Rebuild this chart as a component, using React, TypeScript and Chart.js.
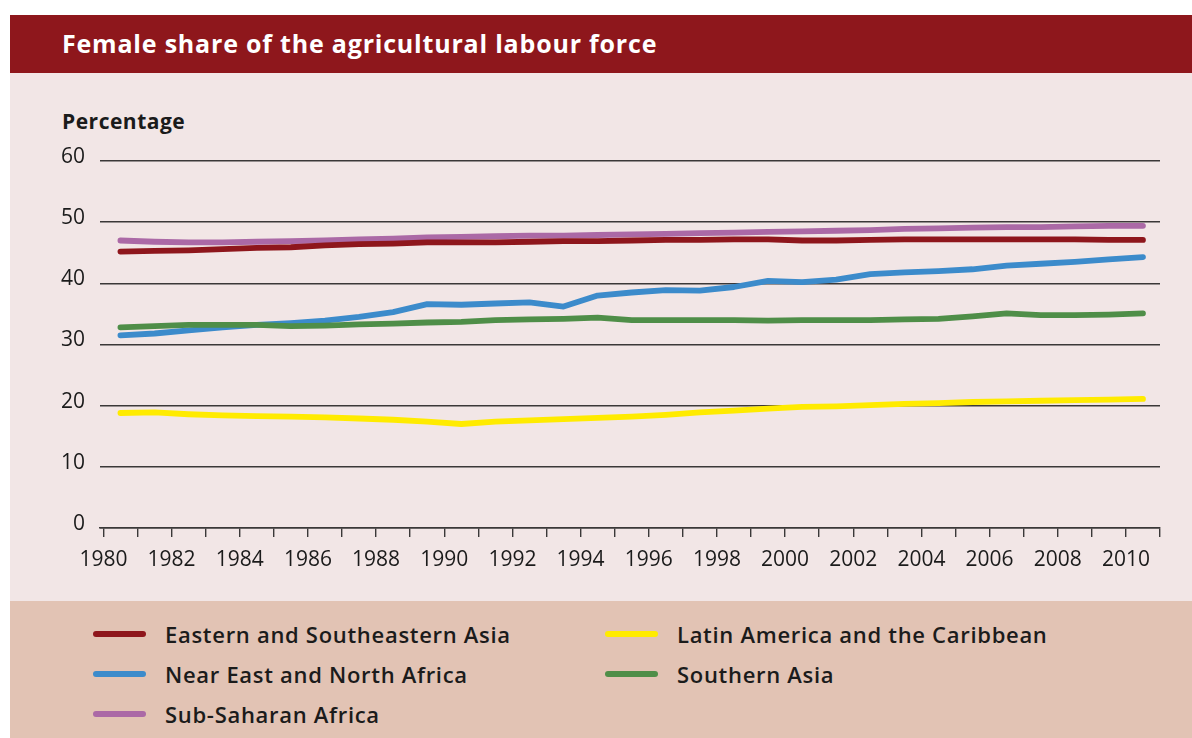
import React, { useEffect, useRef } from "react";
import { Chart, registerables } from "chart.js";

Chart.register(...registerables);

const years: number[] = [
  1980, 1981, 1982, 1983, 1984, 1985, 1986, 1987, 1988, 1989, 1990,
  1991, 1992, 1993, 1994, 1995, 1996, 1997, 1998, 1999, 2000,
  2001, 2002, 2003, 2004, 2005, 2006, 2007, 2008, 2009, 2010,
];

const axisTicks: number[] = [
  1980, 1981, 1982, 1983, 1984, 1985, 1986, 1987, 1988, 1989, 1990,
  1991, 1992, 1993, 1994, 1995, 1996, 1997, 1998, 1999, 2000,
  2001, 2002, 2003, 2004, 2005, 2006, 2007, 2008, 2009, 2010, 2011,
];

const yTicks: number[] = [0, 10, 20, 30, 40, 50, 60];

const easternAsia: number[] = [
  45.2, 45.3, 45.4, 45.6, 45.8, 45.9, 46.2, 46.4, 46.5, 46.7, 46.7,
  46.7, 46.8, 46.9, 46.9, 47.0, 47.1, 47.1, 47.2, 47.2, 47.0,
  47.0, 47.1, 47.2, 47.2, 47.2, 47.2, 47.2, 47.2, 47.1, 47.1,
];

const latinAmerica: number[] = [
  18.8, 18.9, 18.6, 18.4, 18.3, 18.2, 18.1, 17.9, 17.7, 17.4, 17.0,
  17.4, 17.6, 17.8, 18.0, 18.2, 18.5, 18.9, 19.2, 19.5, 19.8,
  19.9, 20.1, 20.3, 20.4, 20.6, 20.7, 20.8, 20.9, 21.0, 21.1,
];

const nearEast: number[] = [
  31.5, 31.8, 32.3, 32.8, 33.2, 33.5, 33.9, 34.5, 35.3, 36.6, 36.5,
  36.7, 36.9, 36.2, 38.0, 38.5, 38.9, 38.8, 39.4, 40.4, 40.2,
  40.6, 41.5, 41.8, 42.0, 42.3, 42.9, 43.2, 43.5, 43.9, 44.3,
];

const southernAsia: number[] = [
  32.8, 33.0, 33.2, 33.2, 33.2, 33.0, 33.1, 33.3, 33.4, 33.6, 33.7,
  34.0, 34.1, 34.2, 34.4, 34.0, 34.0, 34.0, 34.0, 33.9, 34.0,
  34.0, 34.0, 34.1, 34.2, 34.6, 35.1, 34.8, 34.8, 34.9, 35.1,
];

const subSaharan: number[] = [
  47.0, 46.8, 46.7, 46.7, 46.8, 46.9, 47.0, 47.2, 47.3, 47.5, 47.6,
  47.7, 47.8, 47.8, 47.9, 48.0, 48.1, 48.2, 48.3, 48.4, 48.5,
  48.6, 48.7, 48.9, 49.0, 49.1, 49.2, 49.2, 49.3, 49.4, 49.4,
];

const seriesNames: string[] = [
  "Eastern and Southeastern Asia",
  "Latin America and the Caribbean",
  "Near East and North Africa",
  "Southern Asia",
  "Sub-Saharan Africa",
];

const seriesColors: string[] = ["#8E161C", "#FFEB00", "#3C8BCB", "#4F8E48", "#AB69A6"];

const seriesValues: number[][] = [easternAsia, latinAmerica, nearEast, southernAsia, subSaharan];

const FONT = "'Open Sans', 'Noto Sans', sans-serif";
const TEXT = "#1b1b1b";
const GRID = "#3b3838";

export default function App() {
  const canvasRef = useRef<HTMLCanvasElement | null>(null);

  useEffect(() => {
    const canvas = canvasRef.current;
    if (!canvas) return;
    const drawOrder = [3, 2, 1, 0, 4];
    const datasets = drawOrder.map((i) => ({
      label: seriesNames[i],
      data: years.map((yr, k) => ({ x: yr + 0.5, y: seriesValues[i][k] })),
      borderColor: seriesColors[i],
      backgroundColor: seriesColors[i],
      borderWidth: 5.8,
      borderCapStyle: "round" as const,
      borderJoinStyle: "round" as const,
      pointRadius: 0,
      tension: 0,
      fill: false,
    }));

    const chart = new Chart(canvas, {
      type: "line",
      data: { datasets },
      options: {
        animation: false,
        responsive: false,
        maintainAspectRatio: false,
        layout: { padding: { top: 31, right: 32, left: 0, bottom: 0 } },
        plugins: { legend: { display: false }, tooltip: { enabled: false }, title: { display: false } },
        scales: {
          x: {
            type: "linear",
            min: 1979.9,
            max: 2011,
            afterBuildTicks: (scale: any) => {
              scale.ticks = axisTicks.map((v) => ({ value: v }));
            },
            afterFit: (scale: any) => {
              scale.height = 72;
            },
            grid: {
              drawOnChartArea: false,
              drawTicks: true,
              tickLength: 9,
              color: GRID,
              lineWidth: 1.4,
            },
            border: { display: true, color: GRID, width: 1.5 },
            ticks: {
              autoSkip: false,
              maxRotation: 0,
              minRotation: 0,
              padding: 10,
              color: TEXT,
              font: { family: FONT, size: 21, weight: "500" },
              callback: (v: any) => (Number(v) % 2 === 0 && Number(v) <= 2010 ? String(v) : ""),
            },
          },
          y: {
            min: 0,
            max: 60,
            afterBuildTicks: (scale: any) => {
              scale.ticks = yTicks.map((v) => ({ value: v }));
            },
            afterFit: (scale: any) => {
              scale.width = 100;
            },
            grid: { drawTicks: false, color: GRID, lineWidth: 1.4 },
            border: { display: false },
            ticks: {
              padding: 15,
              labelOffset: -4,
              color: TEXT,
              font: { family: FONT, size: 21, weight: "500" },
              callback: (v: any) => String(v),
            },
          },
        },
      },
    });
    return () => chart.destroy();
  }, []);

  const legendItem = (i: number, left: number, top: number) => (
    <div key={i} style={{ position: "absolute", left, top, height: 40, display: "flex", alignItems: "center" }}>
      <div style={{ width: 53, height: 6, borderRadius: 3, background: seriesColors[i] }} />
      <div
        style={{
          marginLeft: 19,
          fontFamily: FONT,
          fontSize: 22,
          fontWeight: 600,
          letterSpacing: "0.7px",
          color: TEXT,
          whiteSpace: "nowrap",
        }}
      >
        {seriesNames[i]}
      </div>
    </div>
  );

  return (
    <div style={{ position: "absolute", left: 0, top: 0, width: 1192, height: 738, background: "#ffffff", overflow: "hidden" }}>
      <div style={{ position: "absolute", left: 10, top: 15, width: 1182, height: 58, background: "#8E171C" }} />
      <div
        style={{
          position: "absolute",
          left: 62,
          top: 23,
          height: 40,
          lineHeight: "40px",
          color: "#ffffff",
          fontFamily: FONT,
          fontWeight: 700,
          fontSize: 25,
          letterSpacing: "0.8px",
          whiteSpace: "nowrap",
        }}
      >
        Female share of the agricultural labour force
      </div>
      <div style={{ position: "absolute", left: 10, top: 73, width: 1182, height: 528, background: "#F2E6E6" }} />
      <div
        style={{
          position: "absolute",
          left: 62,
          top: 103,
          height: 36,
          lineHeight: "36px",
          color: TEXT,
          fontFamily: FONT,
          fontWeight: 700,
          fontSize: 21,
          letterSpacing: "0.5px",
          whiteSpace: "nowrap",
        }}
      >
        Percentage
      </div>
      <canvas
        ref={canvasRef}
        width={1192}
        height={470}
        style={{ position: "absolute", left: 0, top: 130, width: 1192, height: 470 }}
      />
      <div style={{ position: "absolute", left: 10, top: 601, width: 1182, height: 137, background: "#E2C3B4" }} />
      {legendItem(0, 93, 614)}
      {legendItem(2, 93, 654)}
      {legendItem(4, 93, 694)}
      {legendItem(1, 605, 614)}
      {legendItem(3, 605, 654)}
    </div>
  );
}
